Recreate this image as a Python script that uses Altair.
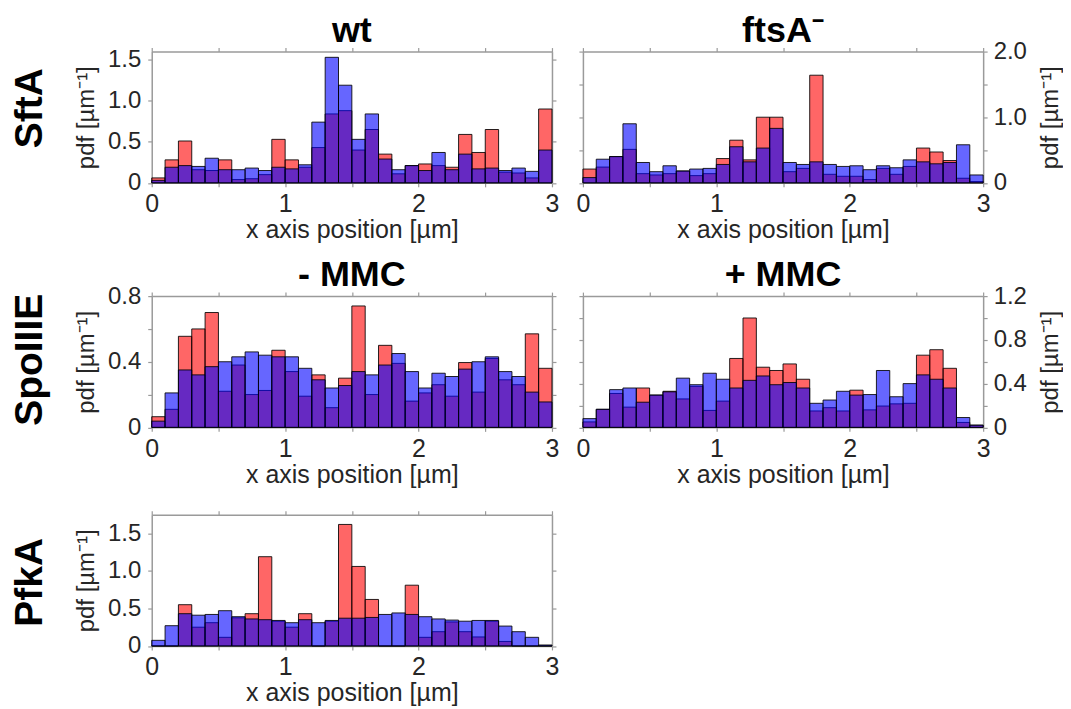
import altair as alt
import pandas as pd

# ---------------- data ----------------
bin_left = [round(i * 0.1, 1) for i in range(30)]
bin_right = [round((i + 1) * 0.1, 1) for i in range(30)]

sfta_wt_red = [0.06, 0.28, 0.51, 0.16, 0.15, 0.28, 0.04, 0.05, 0.10, 0.53,
               0.28, 0.19, 0.43, 0.84, 0.88, 0.40, 0.65, 0.35, 0.11, 0.21,
               0.23, 0.21, 0.19, 0.59, 0.37, 0.65, 0.13, 0.12, 0.06, 0.90]
sfta_wt_blue = [0.03, 0.19, 0.21, 0.20, 0.30, 0.16, 0.16, 0.18, 0.15, 0.19,
                0.17, 0.22, 0.74, 1.53, 1.19, 0.53, 0.84, 0.29, 0.16, 0.21,
                0.15, 0.37, 0.16, 0.35, 0.17, 0.18, 0.15, 0.18, 0.14, 0.40]

sfta_fts_red = [0.21, 0.24, 0.40, 0.51, 0.14, 0.12, 0.14, 0.18, 0.11, 0.14,
                0.37, 0.65, 0.35, 1.00, 1.00, 0.17, 0.22, 1.64, 0.13, 0.10,
                0.10, 0.05, 0.22, 0.13, 0.25, 0.53, 0.47, 0.34, 0.07, 0.02]
sfta_fts_blue = [0.08, 0.36, 0.40, 0.90, 0.31, 0.17, 0.26, 0.18, 0.21, 0.22,
                 0.28, 0.55, 0.32, 0.53, 0.83, 0.31, 0.28, 0.32, 0.28, 0.25,
                 0.26, 0.20, 0.26, 0.23, 0.35, 0.32, 0.29, 0.31, 0.58, 0.12]

spo_minus_red = [0.065, 0.11, 0.555, 0.60, 0.70, 0.22, 0.38, 0.20, 0.225, 0.47,
                 0.34, 0.19, 0.32, 0.12, 0.30, 0.74, 0.20, 0.50, 0.39, 0.16,
                 0.21, 0.26, 0.19, 0.395, 0.215, 0.42, 0.29, 0.26, 0.57, 0.36]
spo_minus_blue = [0.038, 0.21, 0.35, 0.32, 0.37, 0.40, 0.43, 0.46, 0.44, 0.43,
                  0.43, 0.36, 0.29, 0.24, 0.255, 0.34, 0.32, 0.38, 0.45, 0.34,
                  0.24, 0.33, 0.31, 0.355, 0.40, 0.43, 0.34, 0.31, 0.215, 0.155]

spo_plus_red = [0.05, 0.165, 0.31, 0.185, 0.36, 0.295, 0.33, 0.26, 0.375, 0.155,
                0.24, 0.63, 1.00, 0.55, 0.52, 0.58, 0.44, 0.15, 0.18, 0.15,
                0.34, 0.16, 0.195, 0.215, 0.22, 0.66, 0.71, 0.54, 0.045, 0.02]
spo_plus_blue = [0.08, 0.165, 0.345, 0.36, 0.23, 0.295, 0.325, 0.45, 0.39, 0.495,
                 0.44, 0.36, 0.43, 0.47, 0.39, 0.41, 0.36, 0.22, 0.25, 0.33,
                 0.295, 0.30, 0.52, 0.28, 0.40, 0.48, 0.44, 0.36, 0.09, 0.02]

pfka_red = [0.0, 0.0, 0.55, 0.25, 0.31, 0.115, 0.375, 0.43, 1.19, 0.33,
            0.25, 0.43, 0.0, 0.33, 1.62, 1.06, 0.62, 0.0, 0.0, 0.81,
            0.115, 0.19, 0.32, 0.19, 0.12, 0.33, 0.06, 0.0, 0.0, 0.0]
pfka_blue = [0.075, 0.27, 0.43, 0.41, 0.42, 0.47, 0.39, 0.36, 0.35, 0.34,
             0.31, 0.35, 0.31, 0.34, 0.37, 0.37, 0.38, 0.42, 0.44, 0.42,
             0.39, 0.36, 0.345, 0.33, 0.34, 0.34, 0.265, 0.19, 0.115, 0.013]

x_ticks = [0, 0.5, 1, 1.5, 2, 2.5, 3]
x_tick_labels = [0, 1, 2, 3]

col_titles = ["wt", "ftsA\u207b", "- MMC", "+ MMC"]
row_titles = ["SftA", "SpoIIIE", "PfkA"]
x_title = "x axis position [µm]"
y_title = "pdf [µm\u207b\u00b9]"

# ---------------- style ----------------
FONT = "Liberation Sans"
W, H = 401, 131.5
FRAME = "#9a9a9a"
TXT = "#262626"


def label_expr(vals):
    lst = ",".join(str(v) for v in vals)
    return ("datum.value == 0 ? '0' : (indexof([" + lst +
            "], datum.value) >= 0 ? format(datum.value, '.1f') : '')")


x_label_expr = ("indexof([" + ",".join(str(v) for v in x_tick_labels) +
                "], datum.value) >= 0 ? format(datum.value, 'd') : ''")


def panel(red, blue, title, ydom, yticks, ylabels, yorient):
    df_r = pd.DataFrame({"x0": bin_left, "x1": bin_right, "pdf": red})
    df_b = pd.DataFrame({"x0": bin_left, "x1": bin_right, "pdf": blue})
    xs = alt.Scale(domain=[0, 3], nice=False, zero=False)
    ys = alt.Scale(domain=ydom, nice=False)
    other = "left" if yorient == "right" else "right"
    y_main_kwargs = dict(orient=yorient, values=yticks, labelExpr=label_expr(ylabels),
                         title=y_title, labelPadding=7, titlePadding=9, labelFlush=False)
    if yorient == "right":
        y_main_kwargs.update(titleAngle=270, titleBaseline="top", titlePadding=12,
                             labelPadding=6)
    red_layer = alt.Chart(df_r).mark_bar(
        fill="#ff0000", fillOpacity=0.6, stroke="black", strokeOpacity=0.85, strokeWidth=1
    ).encode(
        x=alt.X("x0:Q", scale=xs, axis=alt.Axis(orient="bottom", values=x_ticks,
                                               labelExpr=x_label_expr, title=x_title,
                                               labelFontSize=25, labelPadding=5,
                                               labelFlush=False, titleFontSize=25,
                                               titlePadding=1)),
        x2="x1:Q",
        y=alt.Y("pdf:Q", scale=ys, axis=alt.Axis(**y_main_kwargs)),
        y2=alt.datum(0),
    )
    blue_layer = alt.Chart(df_b).mark_bar(
        fill="#0000ff", fillOpacity=0.6, stroke="black", strokeOpacity=0.85, strokeWidth=1
    ).encode(
        x=alt.X("x0:Q", scale=xs, axis=alt.Axis(orient="top", values=x_ticks,
                                               labels=False, title="")),
        x2="x1:Q",
        y=alt.Y("pdf:Q", scale=ys, axis=alt.Axis(orient=other, values=yticks,
                                                labels=False, title="")),
        y2=alt.datum(0),
    )
    layers = [red_layer, blue_layer]
    if title:
        title_layer = alt.Chart(pd.DataFrame({"t": [title]})).mark_text(
            fontSize=36, fontWeight="bold", font=FONT, color="black",
            align="center", baseline="alphabetic"
        ).encode(text="t:N", x=alt.value(W / 2), y=alt.value(-10))
        layers.append(title_layer)
    ch = alt.layer(*layers).resolve_axis(x="independent", y="independent")
    return ch.properties(width=W, height=H)


def row_label(text, dy=0, extra=0):
    df = pd.DataFrame({"t": [text]})
    return alt.Chart(df).mark_text(
        angle=270, fontSize=39, fontWeight="bold", font=FONT, color="black",
        align="center", baseline="middle"
    ).encode(text="t:N", x=alt.value(-71), y=alt.value(H / 2 + dy)).properties(
        width=20, height=H + extra)


p1 = panel(sfta_wt_red, sfta_wt_blue, col_titles[0], [0, 1.6], [0, 0.5, 1, 1.5],
           [0.5, 1, 1.5], "left")
p2 = panel(sfta_fts_red, sfta_fts_blue, col_titles[1], [0, 2], [0, 0.5, 1, 1.5, 2],
           [1, 2], "right")
p3 = panel(spo_minus_red, spo_minus_blue, col_titles[2], [0, 0.8], [0, 0.2, 0.4, 0.6, 0.8],
           [0.4, 0.8], "left")
p4 = panel(spo_plus_red, spo_plus_blue, col_titles[3], [0, 1.2],
           [0, 0.2, 0.4, 0.6, 0.8, 1.0, 1.2], [0.4, 0.8, 1.2], "right")
p5 = panel(pfka_red, pfka_blue, None, [0, 1.75], [0, 0.5, 1, 1.5], [0.5, 1, 1.5], "left")

chart = alt.concat(
    row_label(row_titles[0], dy=-9, extra=26.5), p1, p2,
    row_label(row_titles[1], dy=-2), p3, p4,
    row_label(row_titles[2], dy=2), p5,
    columns=3, spacing={"row": 87, "column": 31}, bounds="flush"
).properties(
    padding={"left": 3, "top": 4, "right": 0, "bottom": 0}
).configure_view(strokeWidth=0).configure_axis(
    labelFont=FONT, titleFont=FONT, labelColor=TXT, titleColor=TXT,
    labelFontSize=24, titleFontSize=24, titleFontWeight="normal",
    domainColor=FRAME, tickColor=FRAME, domainWidth=1.5, tickWidth=1.2, tickSize=4,
    grid=False
)

chart.save("out.html", embed_options={"renderer": "svg", "actions": False})
